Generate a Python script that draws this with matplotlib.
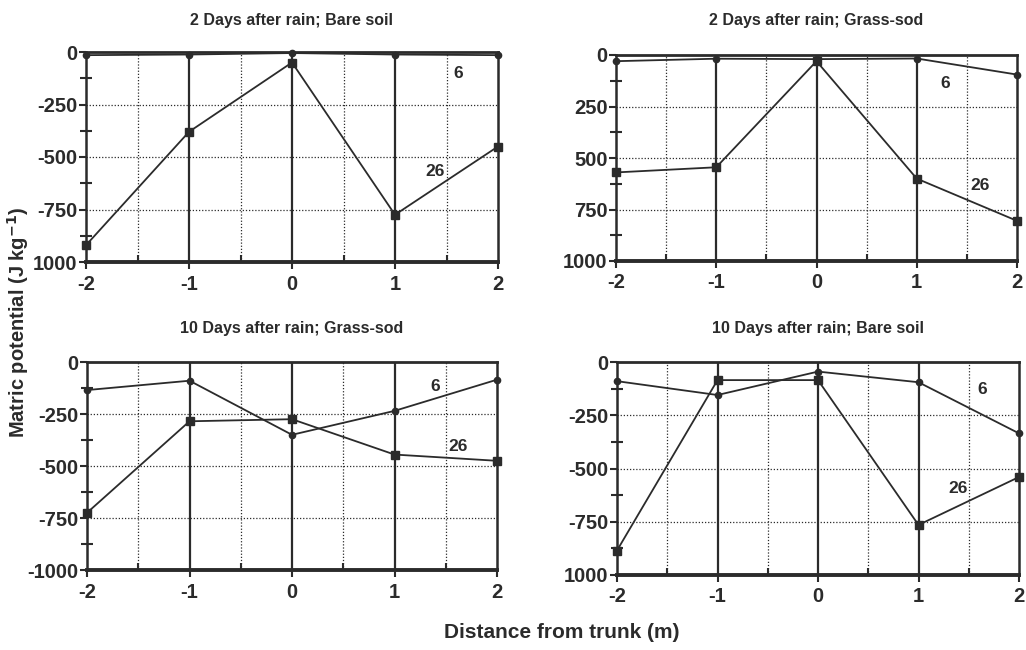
import numpy as np
import matplotlib
matplotlib.use('Agg')
import matplotlib.pyplot as plt
from matplotlib.ticker import MultipleLocator

plt.rcParams['font.family'] = ['Liberation Sans', 'DejaVu Sans']
plt.rcParams['font.weight'] = 'bold'
plt.rcParams['axes.unicode_minus'] = False

distance = [-2, -1, 0, 1, 2]

# matric potential (J/kg) at 6 and 26 cm depth
titles = ["2 Days after rain; Bare soil", "2 Days after rain; Grass-sod",
          "10 Days after rain; Grass-sod", "10 Days after rain; Bare soil"]
d2_bare_6 = [-15, -12, -5, -12, -15]
d2_bare_26 = [-920, -380, -50, -775, -450]
d2_grass_6 = [-30, -18, -20, -17, -95]
d2_grass_26 = [-570, -545, -30, -600, -805]
d10_grass_6 = [-135, -90, -350, -235, -85]
d10_grass_26 = [-725, -285, -275, -445, -475]
d10_bare_6 = [-90, -155, -45, -95, -335]
d10_bare_26 = [-885, -85, -85, -765, -540]

ytick_labels = [
    ["0", "-250", "-500", "-750", "1000"],
    ["0", "250", "500", "750", "1000"],
    ["0", "-250", "-500", "-750", "-1000"],
    ["0", "-250", "-500", "-750", "1000"],
]
series = [(d2_bare_6, d2_bare_26), (d2_grass_6, d2_grass_26),
          (d10_grass_6, d10_grass_26), (d10_bare_6, d10_bare_26)]

# label positions (x, y) for "6" and "26"
label_pos = [((1.61, -100), (1.39, -571)),
             ((1.28, -140), (1.63, -634)),
             ((1.40, -120), (1.62, -404)),
             ((1.63, -131), (1.39, -595))]

# axes boxes in pixels: left, right, top, bottom
W, H = 1026, 650
boxes = [(86, 498, 52, 262), (616, 1017, 55, 261),
         (87, 497, 362, 570), (617, 1019, 362, 575)]
title_y = [21, 20, 328, 329]

fig = plt.figure(figsize=(W / 100, H / 100), dpi=100)
col = '#2b2b2b'

for i in range(4):
    l, r, t, b = boxes[i]
    ax = fig.add_axes([l / W, 1 - b / H, (r - l) / W, (b - t) / H])
    ax.set_xlim(-2, 2)
    ax.set_ylim(-1000, 0)

    # dotted grid
    for gx in [-1.5, -0.5, 0.5, 1.5]:
        ax.axvline(gx, color=col, ls=(0, (1, 1.5)), lw=0.9, zorder=1)
    for gy in [-250, -500, -750]:
        ax.axhline(gy, color=col, ls=(0, (1, 1.5)), lw=0.9, zorder=1)
    # solid verticals at integer distances
    for gx in [-1, 0, 1]:
        ax.axvline(gx, color=col, lw=1.6, zorder=2)

    s6, s26 = series[i]
    ax.plot(distance, s6, color=col, lw=1.3, marker='o', ms=4.5, zorder=3, clip_on=False)
    ax.plot(distance, s26, color=col, lw=1.3, marker='s', ms=6, zorder=3, clip_on=False)

    (x6, y6), (x26, y26) = label_pos[i]
    ax.text(x6, y6, "6", fontsize=12.5, fontweight='bold', color=col, ha='center', va='center')
    ax.text(x26, y26, "26", fontsize=12.5, fontweight='bold', color=col, ha='center', va='center')

    for side in ['left', 'right']:
        ax.spines[side].set_linewidth(1.8)
        ax.spines[side].set_color(col)
    ax.spines['top'].set_linewidth(2.0)
    ax.spines['top'].set_color(col)
    ax.spines['bottom'].set_linewidth(2.8)
    ax.spines['bottom'].set_color(col)

    ax.set_xticks(distance)
    ax.set_xticklabels([str(d) for d in distance])
    ax.xaxis.set_minor_locator(MultipleLocator(0.5))
    ax.set_yticks([0, -250, -500, -750, -1000])
    ax.set_yticklabels(ytick_labels[i])
    ax.yaxis.set_minor_locator(MultipleLocator(125))
    ax.tick_params(axis='both', which='major', labelsize=14.5, colors=col, width=1.5, length=5)
    ax.tick_params(axis='x', which='major', direction='out', pad=4)
    ax.tick_params(axis='y', which='major', direction='out', pad=1)
    ax.tick_params(axis='y', which='minor', direction='inout', length=8, width=1.5, colors=col)
    ax.tick_params(axis='x', which='minor', direction='in', length=5, width=1.5, colors=col)
    for lab in ax.get_xticklabels() + ax.get_yticklabels():
        lab.set_fontweight('bold')

    fig.text((l + r) / 2 / W, 1 - title_y[i] / H, titles[i], fontsize=11.5,
             fontweight='bold', color=col, ha='center', va='center')

fig.text(18 / W, 1 - 322 / H, "Matric potential (J kg$^{\\mathbf{-1}}$)", rotation=90,
         fontsize=14.5, fontweight='bold', color=col, ha='center', va='center')
fig.text(562 / W, 1 - 632 / H, "Distance from trunk (m)", fontsize=15,
         fontweight='bold', color=col, ha='center', va='center')

fig.savefig('out.png', dpi=100)
